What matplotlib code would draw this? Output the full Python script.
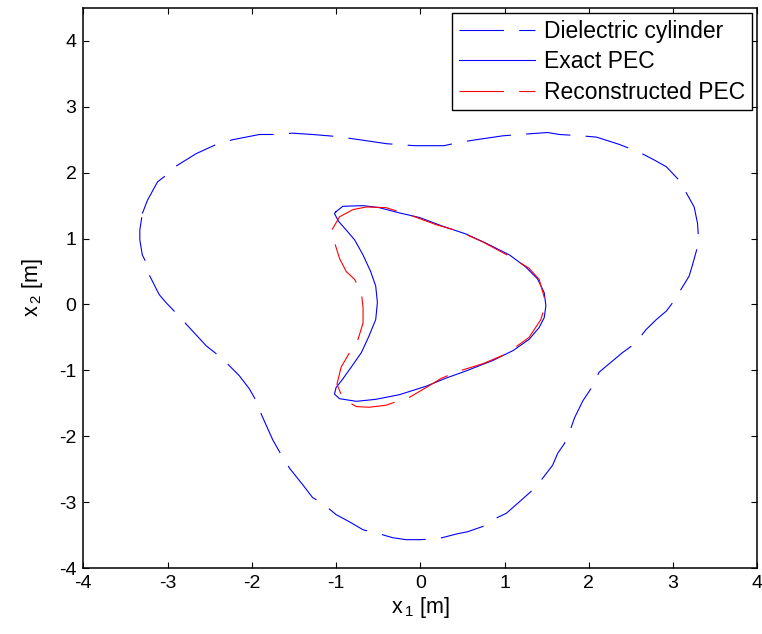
import numpy as np
import matplotlib.pyplot as plt

plt.rcParams['font.family'] = ['Liberation Sans', 'DejaVu Sans']
plt.rcParams['mathtext.default'] = 'regular'
plt.rcParams['lines.scale_dashes'] = False
plt.rcParams['axes.unicode_minus'] = False

# outer dielectric boundary, traced clockwise from the left lobe
diel_x = [-3.30, -3.24, -3.12, -3.03, -2.90, -2.66, -2.42, -2.23, -1.91, -1.71,
          -1.52, -1.28, -1.00, -0.72, -0.40, -0.07, 0.28, 0.46, 0.66, 0.98,
          1.18, 1.51, 1.65, 1.91, 2.09, 2.36, 2.60, 2.78, 2.92, 3.09,
          3.15, 3.25, 3.29, 3.30, 3.28, 3.23, 3.19, 3.07, 2.99, 2.92,
          2.80, 2.68, 2.55, 2.39, 2.26, 2.12, 2.05, 1.93, 1.83, 1.77,
          1.71, 1.63, 1.57, 1.45, 1.33, 1.18, 1.02, 0.92, 0.74, 0.56,
          0.44, 0.26, 0.15, -0.01, -0.17, -0.33, -0.49, -0.68, -0.84, -1.00,
          -1.16, -1.28, -1.40, -1.55, -1.67, -1.75, -1.81, -1.89, -1.95, -2.03,
          -2.15, -2.29, -2.42, -2.54, -2.67, -2.80, -2.90, -3.02, -3.10, -3.14,
          -3.23, -3.26, -3.30, -3.33, -3.33]
diel_y = [1.38, 1.58, 1.86, 1.95, 2.10, 2.29, 2.43, 2.50, 2.58, 2.58,
          2.60, 2.58, 2.55, 2.50, 2.44, 2.41, 2.41, 2.46, 2.50, 2.56,
          2.58, 2.61, 2.58, 2.56, 2.54, 2.43, 2.31, 2.19, 2.09, 1.86,
          1.71, 1.48, 1.23, 1.03, 0.83, 0.60, 0.43, 0.18, 0.02, -0.10,
          -0.23, -0.38, -0.59, -0.74, -0.88, -1.03, -1.23, -1.46, -1.72, -1.94,
          -2.11, -2.26, -2.44, -2.64, -2.82, -2.99, -3.17, -3.23, -3.37, -3.45,
          -3.48, -3.54, -3.56, -3.57, -3.57, -3.54, -3.48, -3.42, -3.30, -3.19,
          -3.02, -2.93, -2.73, -2.49, -2.24, -2.06, -1.89, -1.66, -1.46, -1.28,
          -1.08, -0.90, -0.75, -0.63, -0.45, -0.27, -0.13, 0.03, 0.15, 0.25,
          0.48, 0.65, 0.75, 0.98, 1.13]

# true kite-shaped PEC
pec_x = [-1.00, -0.92, -0.68, -0.49, -0.25, -0.01, 0.26, 0.54, 0.78, 1.06,
         1.25, 1.39, 1.47, 1.49, 1.47, 1.41, 1.29, 1.10, 0.86, 0.54,
         0.30, 0.07, -0.25, -0.53, -0.76, -0.96, -1.02, -1.00, -0.92, -0.82,
         -0.70, -0.61, -0.53, -0.51, -0.53, -0.59, -0.68, -0.78, -0.88, -0.97,
         -1.02]
pec_y = [1.41, 1.49, 1.50, 1.47, 1.39, 1.32, 1.19, 1.07, 0.93, 0.75,
         0.57, 0.39, 0.18, -0.02, -0.20, -0.35, -0.53, -0.70, -0.85, -1.01,
         -1.12, -1.24, -1.37, -1.44, -1.47, -1.43, -1.36, -1.26, -1.13, -0.95,
         -0.73, -0.48, -0.23, 0.03, 0.28, 0.50, 0.75, 0.98, 1.13, 1.26,
         1.38]

# reconstructed PEC
rec_x = [-0.80, -0.64, -0.41, -0.13, 0.19, 0.46, 0.74, 1.06, 1.29, 1.41,
         1.49, 1.43, 1.29, 1.02, 0.74, 0.46, 0.25, 0.07, -0.13, -0.41,
         -0.61, -0.76, -0.92, -0.99, -0.94, -0.84, -0.74, -0.68, -0.68, -0.70,
         -0.78, -0.88, -0.96, -1.04, -1.05, -0.96]
rec_y = [1.44, 1.48, 1.47, 1.36, 1.21, 1.11, 0.95, 0.73, 0.55, 0.38,
         0.02, -0.23, -0.50, -0.75, -0.90, -1.01, -1.12, -1.26, -1.41, -1.53,
         -1.56, -1.55, -1.43, -1.21, -0.95, -0.73, -0.53, -0.28, -0.05, 0.18,
         0.38, 0.50, 0.70, 1.03, 1.13, 1.33]


def closed(xs, ys):
    return np.append(xs, xs[0]), np.append(ys, ys[0])


fig = plt.figure(figsize=(7.62, 6.34), dpi=100, facecolor='w')
ax = fig.add_axes([0.1094, 0.1041, 0.8845, 0.8833])

x, y = closed(diel_x, diel_y)
ax.plot(x, y, color='blue', lw=0.8, dashes=(32, 11), label='Dielectric cylinder')
x, y = closed(pec_x, pec_y)
ax.plot(x, y, color='blue', lw=0.8, label='Exact PEC')
x, y = closed(rec_x, rec_y)
ax.plot(x, y, color='red', lw=0.8, dashes=(32, 11), label='Reconstructed PEC')

ax.set_xlim(-4, 4)
ax.set_ylim(-4, 4.5)
ax.set_xticks(range(-4, 5))
ax.set_yticks(range(-4, 5))
ax.tick_params(direction='in', length=4.5, width=0.8, top=True, right=True,
               labelsize=14, pad=5)
for spine in ax.spines.values():
    spine.set_linewidth(1.1)

ax.set_xlabel(r'x$_{\,1}$ [m]', fontsize=15.5, labelpad=2)
ax.set_ylabel(r'x$_{\,2}$ [m]', fontsize=15.5, labelpad=10)

leg = ax.legend(loc='upper right', bbox_to_anchor=(0.992, 0.991), borderaxespad=0,
                fontsize=16.5, fancybox=False, framealpha=1, edgecolor='black',
                handlelength=3.3, handletextpad=0.4, labelspacing=0.32,
                borderpad=0.3)
leg.get_frame().set_linewidth(1.0)

fig.savefig('out.png', dpi=100)
